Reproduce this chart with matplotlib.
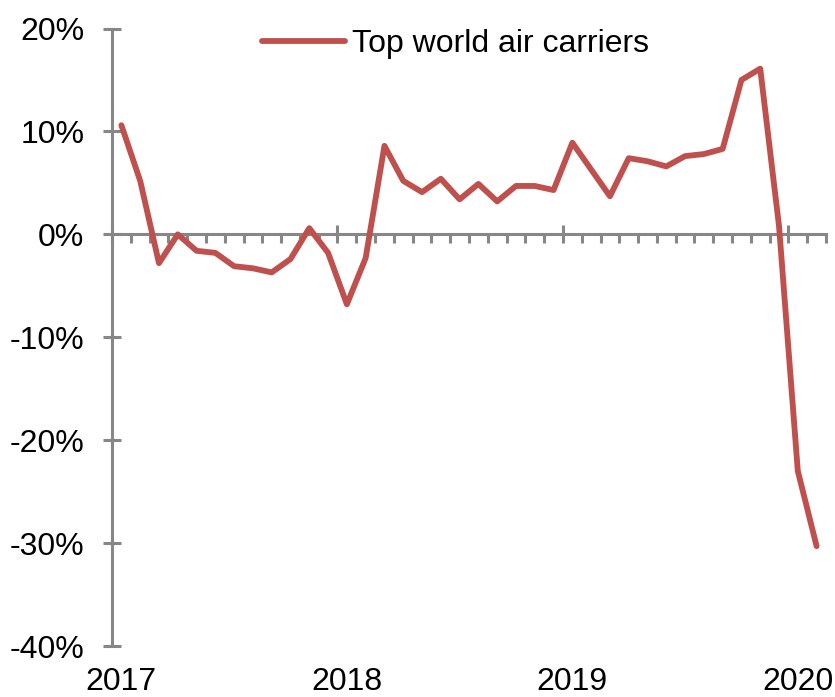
import matplotlib
matplotlib.use("Agg")
import matplotlib.pyplot as plt
import matplotlib.transforms as mtransforms
import numpy as np

plt.rcParams['font.family'] = ['Liberation Sans', 'DejaVu Sans']

series_name = "Top world air carriers"
# monthly values (%), Jan 2017 .. Feb 2020
values = [10.6, 5.2, -2.8, 0.0, -1.6, -1.8, -3.1, -3.3, -3.7, -2.4, 0.6, -1.8,
          -6.8, -2.3, 8.6, 5.2, 4.1, 5.4, 3.4, 4.9, 3.2, 4.7, 4.7, 4.3,
          8.9, 6.3, 3.7, 7.4, 7.1, 6.6, 7.6, 7.8, 8.3, 15.0, 16.1, 0.8,
          -23.0, -30.3]
year_labels = ["2017", "2018", "2019", "2020"]
y_ticks = [20, 10, 0, -10, -20, -30, -40]

line_color = "#C0504D"
axis_color = "#878787"

fig = plt.figure(figsize=(8.35, 6.97), dpi=100)
ax = fig.add_axes([112/835, 1 - 646/697, (826 - 112)/835, (646 - 28.5)/697])

n = len(values)
x = np.arange(n) + 0.5
ax.plot(x, values, color=line_color, lw=4.2, solid_joinstyle='round',
        solid_capstyle='round', zorder=3, label=series_name)

ax.set_xlim(0, n)
ax.set_ylim(-40, 20)

for s in ['top', 'right']:
    ax.spines[s].set_visible(False)
ax.spines['bottom'].set_position(('data', 0))
for s in ['left', 'bottom']:
    ax.spines[s].set_color(axis_color)
    ax.spines[s].set_linewidth(2.2)
    ax.spines[s].set_zorder(2)

ax.set_yticks(y_ticks)
ax.set_yticklabels([f"{v}%" for v in y_ticks])
ax.tick_params(axis='y', direction='inout', length=13, width=2.2,
               color=axis_color, labelsize=23, pad=13.5, labelcolor='black')

major_x = [12 * i for i in range(len(year_labels))]
ax.set_xticks(major_x)
ax.set_xticklabels([])
ax.set_xticks(np.arange(0, n + 1), minor=True)
ax.tick_params(axis='x', which='major', direction='inout', length=13, width=2.2,
               color=axis_color)
ax.tick_params(axis='x', which='minor', direction='out', length=6.5, width=2.2,
               color=axis_color)

trans = mtransforms.blended_transform_factory(ax.transData, ax.transAxes)
offset = mtransforms.ScaledTranslation(0, -31.5/72, fig.dpi_scale_trans)
for pos, lab in zip(major_x, year_labels):
    ax.text(pos + 0.5, 0, lab, transform=trans + offset, ha='center',
            va='baseline', fontsize=23, color='black', clip_on=False)

leg = fig.legend(loc='center left', bbox_to_anchor=(262/835, 1 - 44/697),
                 frameon=False, fontsize=23, handlelength=2.6,
                 handletextpad=0.22, borderpad=0, borderaxespad=0)

fig.savefig("out.png", dpi=100)
